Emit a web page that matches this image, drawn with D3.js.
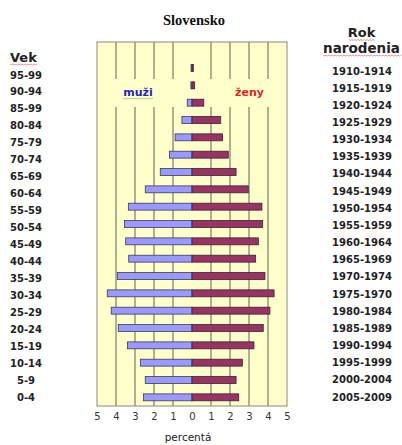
<!DOCTYPE html>
<html><head><meta charset="utf-8">
<script src="https://cdn.jsdelivr.net/npm/d3@7"></script>
<style>
html,body{margin:0;padding:0;background:#fff;}
svg{display:block;}
</style></head>
<body>
<svg id="chart" width="402" height="445"></svg>
<script>
// ---- data ----
const ages = ["95-99","90-94","85-99","80-84","75-79","70-74","65-69","60-64","55-59","50-54",
  "45-49","40-44","35-39","30-34","25-29","20-24","15-19","10-14","5-9","0-4"];
const birthYears = ["1910-1914","1915-1919","1920-1924","1925-1929","1930-1934","1935-1939",
  "1940-1944","1945-1949","1950-1954","1955-1959","1960-1964","1965-1969","1970-1974",
  "1975-1970","1980-1984","1985-1989","1990-1994","1995-1999","2000-2004","2005-2009"];
const men   = [0.05,0.06,0.25,0.53,0.89,1.19,1.67,2.46,3.35,3.56,3.49,3.33,3.93,4.46,4.25,3.88,3.40,2.72,2.46,2.56];
const women = [0.07,0.14,0.62,1.51,1.61,1.91,2.32,2.96,3.68,3.72,3.49,3.35,3.84,4.32,4.10,3.75,3.26,2.65,2.32,2.46];
const xTicks = [-5,-4,-3,-2,-1,0,1,2,3,4,5];
const gridValues = [-4,-3,-2,-1,1,2,3,4];

// ---- layout ----
const svg = d3.select("#chart");
const L = 97, R = 287, T = 42, B = 406;
const step = (B - T) / (ages.length + 1);

const x = d3.scaleLinear().domain([-5, 5]).range([L, R]);
const y = d3.scaleBand().domain(ages).range([T + step, B]).paddingInner(0.6).paddingOuter(0.3);
const yLeft = d3.scalePoint().domain(ages).range([75, 397]);
const yRight = d3.scalePoint().domain(birthYears).range([71, 397]);

// plot background
svg.append("rect").attr("x", L).attr("y", T).attr("width", R - L).attr("height", B - T)
  .attr("fill", "#FFFFCC");

// gridlines
svg.append("g").selectAll("line").data(gridValues).join("line")
  .attr("x1", d => x(d)).attr("x2", d => x(d)).attr("y1", T).attr("y2", B)
  .attr("stroke", "#7a7a6a").attr("stroke-width", 1.2);

// legend text boxes (hide gridlines)
svg.append("rect").attr("x", L + 1).attr("y", 79).attr("width", 83).attr("height", 28).attr("fill", "#FFFFCC");
svg.append("rect").attr("x", 205).attr("y", 79).attr("width", R - 206).attr("height", 28).attr("fill", "#FFFFCC");

// plot border
svg.append("rect").attr("x", L).attr("y", T).attr("width", R - L).attr("height", B - T)
  .attr("fill", "none").attr("stroke", "#8a8a7a").attr("stroke-width", 1);

// bars
const bars = svg.append("g");
bars.selectAll("rect.m").data(ages).join("rect").attr("class", "m")
  .attr("x", (d, i) => x(-men[i])).attr("width", (d, i) => x(0) - x(-men[i]))
  .attr("y", d => y(d)).attr("height", y.bandwidth())
  .attr("fill", "#9999FF").attr("stroke", "#3a3a5a").attr("stroke-width", 0.8);
bars.selectAll("rect.f").data(ages).join("rect").attr("class", "f")
  .attr("x", x(0)).attr("width", (d, i) => x(women[i]) - x(0))
  .attr("y", d => y(d)).attr("height", y.bandwidth())
  .attr("fill", "#993366").attr("stroke", "#3a2030").attr("stroke-width", 0.8);

// x axis
const xAxis = svg.append("g").attr("transform", `translate(0,${B + 1})`)
  .call(d3.axisBottom(x).tickValues(xTicks).tickFormat(d => Math.abs(d)).tickSize(0).tickPadding(6));
xAxis.select(".domain").remove();
xAxis.selectAll("text").attr("font-family", "DejaVu Sans, Verdana, sans-serif")
  .attr("font-size", 10).attr("fill", "#333");

// axis title
svg.append("text").attr("x", 188).attr("y", 441).attr("text-anchor", "middle")
  .attr("font-family", "DejaVu Sans, Verdana, sans-serif").attr("font-size", 10.5).attr("fill", "#222")
  .text("percentá");

// chart title
svg.append("text").attr("x", 194).attr("y", 25).attr("text-anchor", "middle")
  .attr("font-family", "Liberation Serif, Times New Roman, serif").attr("font-weight", "bold")
  .attr("font-size", 14.5).attr("fill", "#111").text("Slovensko");

// legend labels
svg.append("text").attr("x", 138).attr("y", 96).attr("text-anchor", "middle")
  .attr("font-family", "DejaVu Sans, Verdana, sans-serif").attr("font-weight", "bold")
  .attr("font-size", 11).attr("fill", "#2323C8").text("muži");
svg.append("text").attr("x", 249.5).attr("y", 96).attr("text-anchor", "middle")
  .attr("font-family", "DejaVu Sans, Verdana, sans-serif").attr("font-weight", "bold")
  .attr("font-size", 11).attr("fill", "#E02424").text("ženy");

// left labels
svg.append("text").attr("x", 10).attr("y", 62)
  .attr("font-family", "DejaVu Sans, Verdana, sans-serif").attr("font-weight", "bold")
  .attr("font-size", 13).attr("fill", "#222").text("Vek");
svg.append("g").selectAll("text").data(ages).join("text")
  .attr("x", 26).attr("y", d => yLeft(d)).attr("dy", "0.35em").attr("text-anchor", "middle")
  .attr("font-family", "DejaVu Sans, Verdana, sans-serif").attr("font-weight", "bold")
  .attr("font-size", 10).attr("fill", "#222").text(d => d);

// right labels
svg.append("text").attr("x", 361.5).attr("y", 37).attr("text-anchor", "middle")
  .attr("font-family", "DejaVu Sans, Verdana, sans-serif").attr("font-weight", "bold")
  .attr("font-size", 13).attr("fill", "#222").text("Rok");
svg.append("text").attr("x", 361.5).attr("y", 53).attr("text-anchor", "middle")
  .attr("font-family", "DejaVu Sans, Verdana, sans-serif").attr("font-weight", "bold")
  .attr("font-size", 13.5).attr("fill", "#222").text("narodenia");
svg.append("g").selectAll("text").data(birthYears).join("text")
  .attr("x", 362).attr("y", d => yRight(d)).attr("dy", "0.35em").attr("text-anchor", "middle")
  .attr("font-family", "DejaVu Sans, Verdana, sans-serif").attr("font-weight", "bold")
  .attr("font-size", 10).attr("fill", "#222").text(d => d);

// spell-check underlines
function wavy(x0, x1, yy, color) {
  let p = `M${x0},${yy}`;
  for (let xx = x0, k = 0; xx < x1; xx += 1.5, k++) p += ` L${xx + 1.5},${yy + (k % 2 ? 0 : 1)}`;
  svg.append("path").attr("d", p).attr("fill", "none").attr("stroke", color).attr("stroke-width", 0.7).attr("opacity", 0.8);
}
wavy(10, 37, 64, "#d04040");
wavy(349, 374, 39.5, "#d04040");
wavy(323, 400, 55, "#d04040");
wavy(123, 153, 98, "#50a060");
</script>
</body></html>
